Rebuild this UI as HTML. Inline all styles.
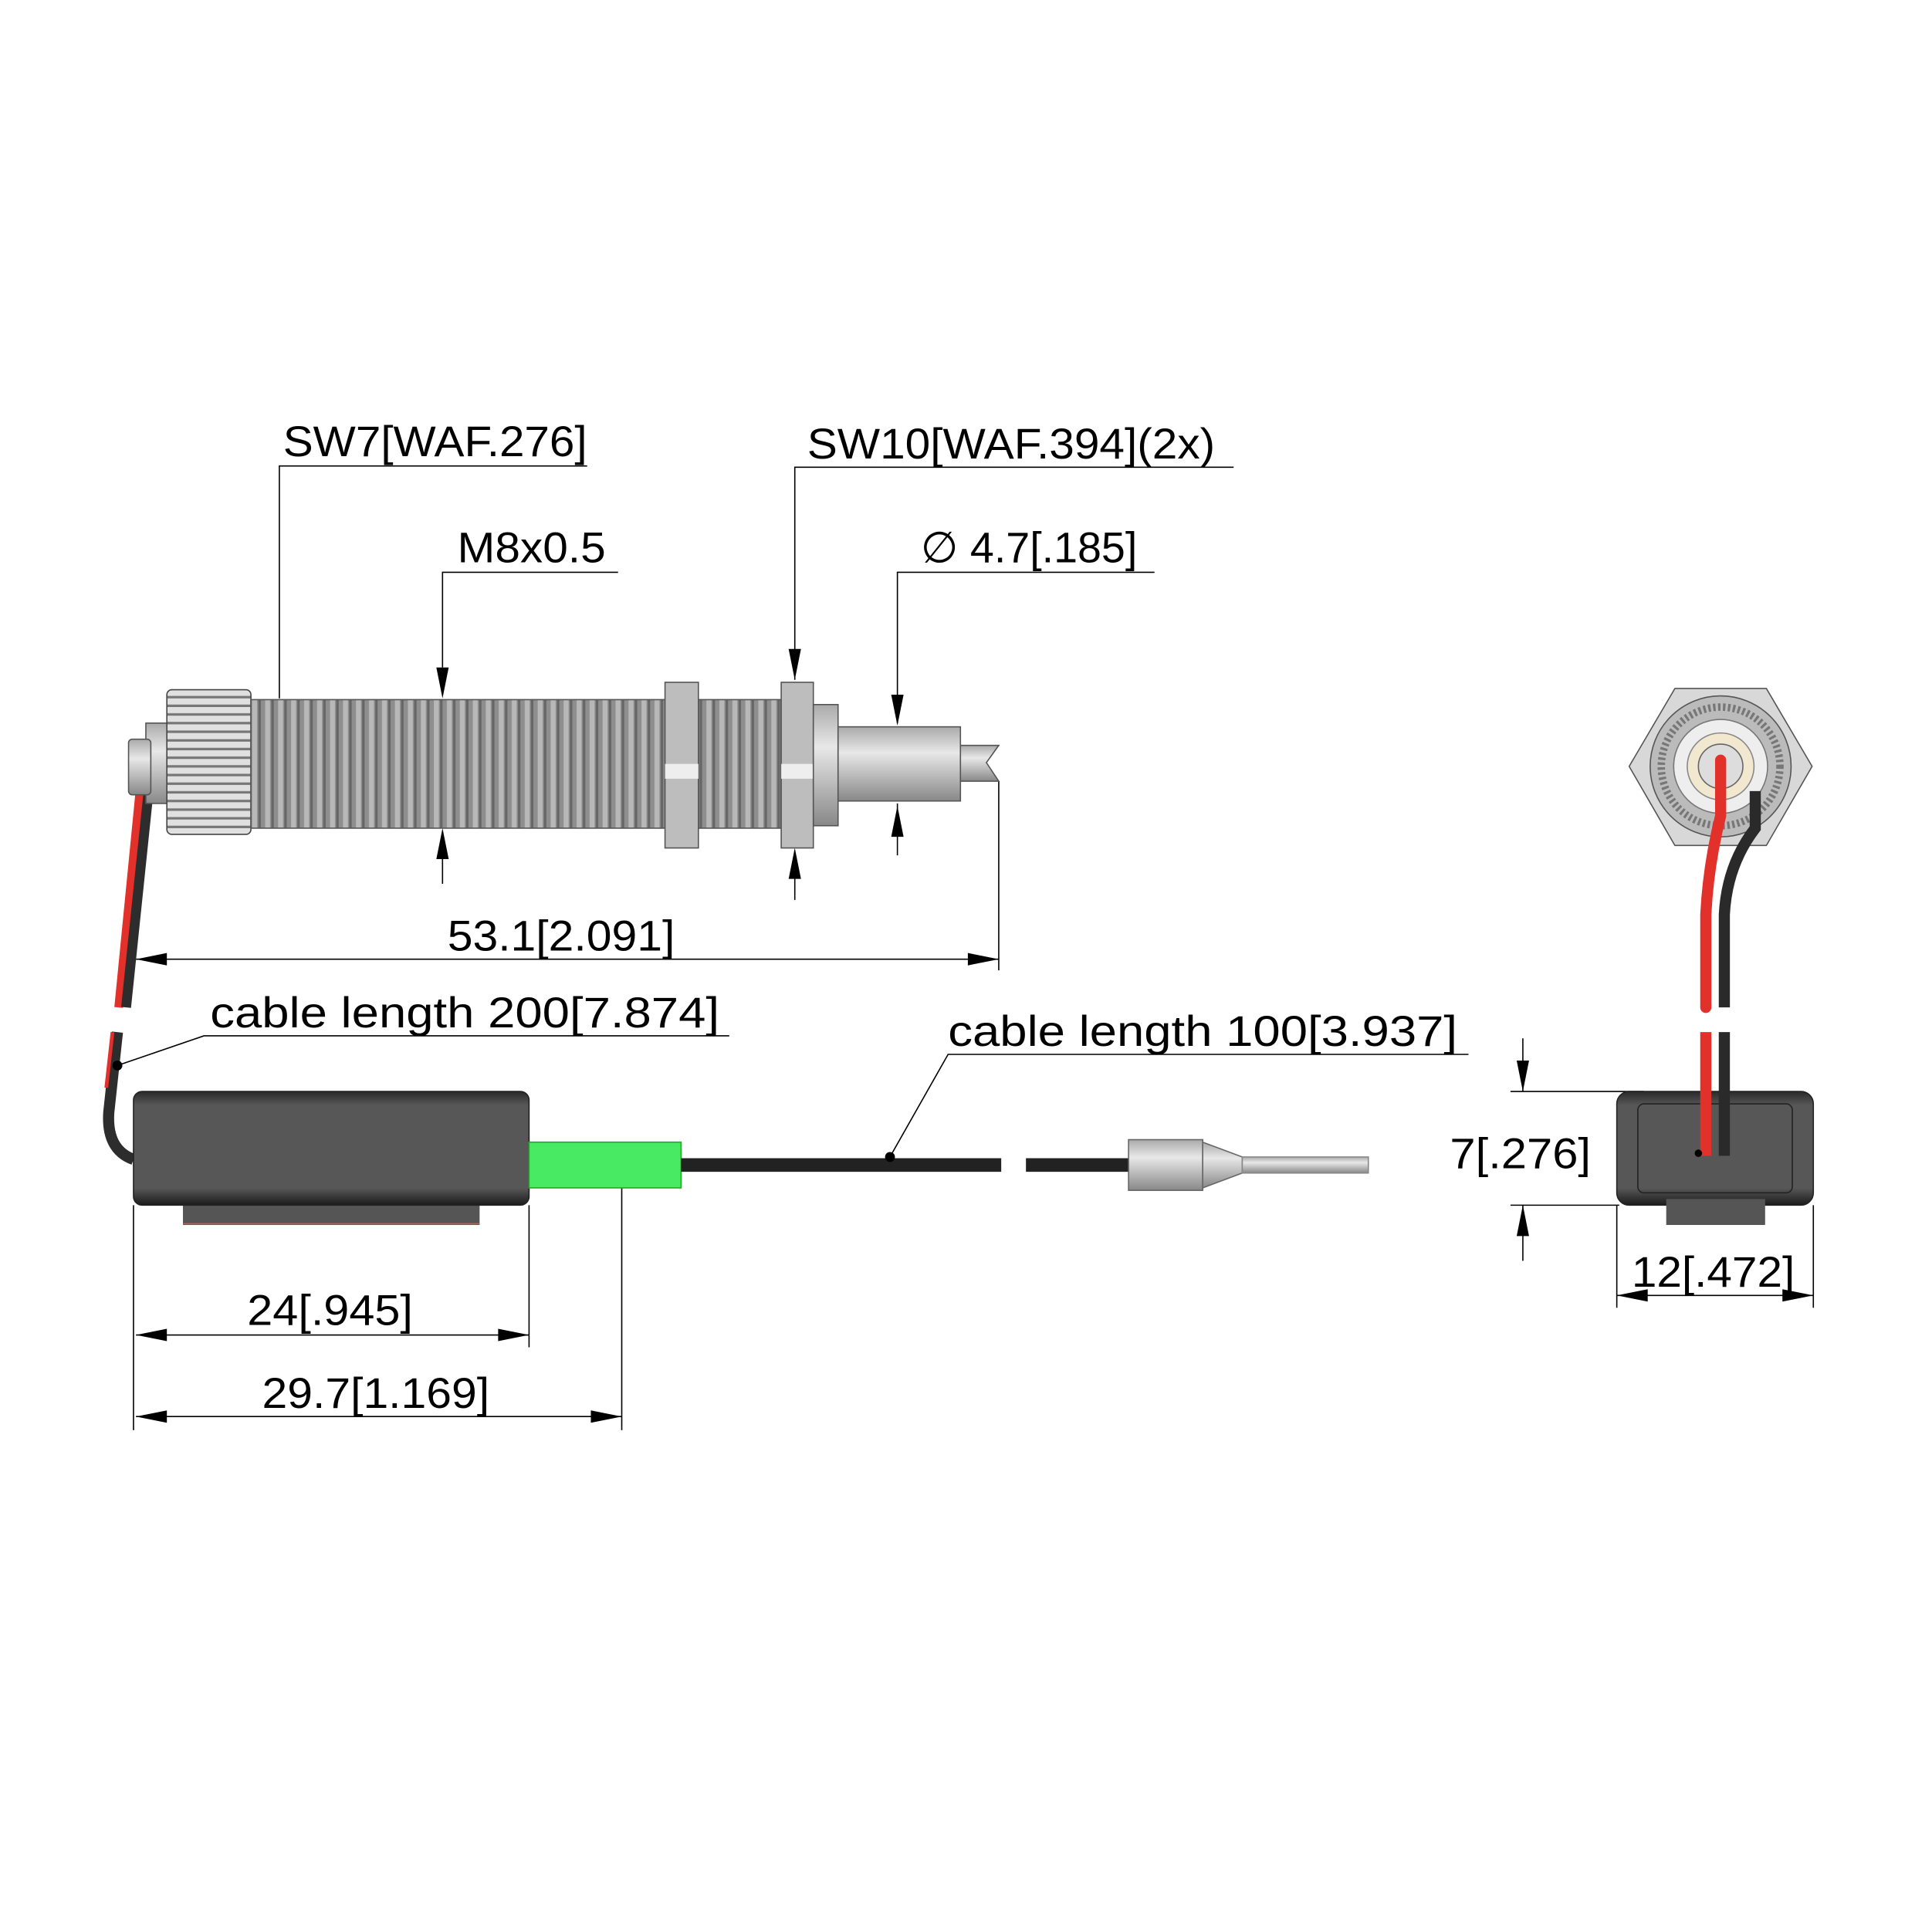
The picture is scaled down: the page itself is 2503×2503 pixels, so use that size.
<!DOCTYPE html>
<html><head><meta charset="utf-8"><style>html,body{margin:0;padding:0;background:#fff}svg{display:block}</style></head><body>
<svg width="2503" height="2503" viewBox="0 0 1563 1563" xmlns="http://www.w3.org/2000/svg" font-family="Liberation Sans, DejaVu Sans, sans-serif">
<defs>
<pattern id="thr" x="203" y="0" width="10.5" height="20" patternUnits="userSpaceOnUse">
<rect width="10.5" height="20" fill="#8e8e8e"/><rect x="1" width="4" height="20" fill="#b8b8b8"/><rect x="6" width="2" height="20" fill="#666"/>
</pattern>
<pattern id="knurl" x="0" y="558" width="10" height="7" patternUnits="userSpaceOnUse">
<rect width="10" height="7" fill="#e0e0e0"/><rect y="5" width="10" height="2" fill="#777"/>
</pattern>
<linearGradient id="cyl" x1="0" y1="0" x2="0" y2="1"><stop offset="0" stop-color="#aaa"/><stop offset=".35" stop-color="#e8e8e8"/><stop offset="1" stop-color="#888"/></linearGradient>
<linearGradient id="box" x1="0" y1="0" x2="0" y2="1"><stop offset="0" stop-color="#2a2a2a"/><stop offset=".12" stop-color="#575757"/><stop offset=".85" stop-color="#575757"/><stop offset="1" stop-color="#1a1a1a"/></linearGradient>
</defs>
<g fill="#000" font-size="35">
<text x="229" y="369" textLength="246" lengthAdjust="spacingAndGlyphs">SW7[WAF.276]</text>
<text x="653" y="371" textLength="330" lengthAdjust="spacingAndGlyphs">SW10[WAF.394](2x)</text>
<text x="370" y="455" textLength="120" lengthAdjust="spacingAndGlyphs">M8x0.5</text>
<text x="745" y="455" textLength="175" lengthAdjust="spacingAndGlyphs">∅ 4.7[.185]</text>
<text x="362" y="769" textLength="184" lengthAdjust="spacingAndGlyphs">53.1[2.091]</text>
<text x="170" y="831" textLength="412" lengthAdjust="spacingAndGlyphs">cable length 200[7.874]</text>
<text x="767" y="846" textLength="412" lengthAdjust="spacingAndGlyphs">cable length 100[3.937]</text>
<text x="200" y="1072" textLength="134" lengthAdjust="spacingAndGlyphs">24[.945]</text>
<text x="212" y="1139" textLength="184" lengthAdjust="spacingAndGlyphs">29.7[1.169]</text>
<text x="1173" y="945" textLength="114" lengthAdjust="spacingAndGlyphs">7[.276]</text>
<text x="1320" y="1041" textLength="132" lengthAdjust="spacingAndGlyphs">12[.472]</text>
</g>
<g stroke="#000" stroke-width="1" fill="none">
<polyline points="226,565 226,377 475,377"/>
<polyline points="643,550 643,378 998,378"/>
<polyline points="358,540 358,463 500,463"/>
<polyline points="726,585 726,463 934,463"/>
<line x1="358" y1="675" x2="358" y2="715"/><line x1="643" y1="688" x2="643" y2="728"/><line x1="726" y1="650" x2="726" y2="692"/>
<line x1="808" y1="632" x2="808" y2="785"/>
<line x1="110" y1="776" x2="808" y2="776"/>
<polyline points="95,862 165,838 590,838"/>
<polyline points="720,936 767,853 1188,853"/>
<line x1="108" y1="975" x2="108" y2="1157"/><line x1="428" y1="975" x2="428" y2="1090"/><line x1="503" y1="940" x2="503" y2="1157"/>
<line x1="110" y1="1080" x2="428" y2="1080"/><line x1="110" y1="1146" x2="503" y2="1146"/>
<line x1="1232" y1="840" x2="1232" y2="883"/><line x1="1222" y1="883" x2="1330" y2="883"/>
<line x1="1232" y1="975" x2="1232" y2="1020"/><line x1="1222" y1="975" x2="1310" y2="975"/>
<line x1="1308" y1="975" x2="1308" y2="1058"/><line x1="1467" y1="975" x2="1467" y2="1058"/>
<line x1="1308" y1="1048" x2="1467" y2="1048"/>
</g>
<g fill="#000">
<polygon points="358,565 353,540 363,540"/><polygon points="358,670 353,695 363,695"/>
<polygon points="643,550 638,525 648,525"/><polygon points="643,686 638,711 648,711"/>
<polygon points="726,587 721,562 731,562"/><polygon points="726,652 721,677 731,677"/>
<polygon points="110,776 135,771 135,781"/><polygon points="808,776 783,771 783,781"/>
<polygon points="110,1080 135,1075 135,1085"/><polygon points="428,1080 403,1075 403,1085"/>
<polygon points="110,1146 135,1141 135,1151"/><polygon points="503,1146 478,1141 478,1151"/>
<polygon points="1232,883 1227,858 1237,858"/><polygon points="1232,975 1227,1000 1237,1000"/>
<polygon points="1308,1048 1333,1043 1333,1053"/><polygon points="1467,1048 1442,1043 1442,1053"/>
</g>
<!-- wires left -->
<path d="M113,642 L96,815" stroke="#e2302a" stroke-width="7"/><path d="M120,642 L102,815" stroke="#2d2d2d" stroke-width="8"/>
<path d="M95,835 L88,900 Q86,930 108,938" stroke="#2d2d2d" stroke-width="9" fill="none"/>
<path d="M91,835 L86,880" stroke="#e2302a" stroke-width="3"/>
<circle cx="95" cy="862" r="4"/><circle cx="226" cy="616" r="4"/>
<!-- sensor -->
<rect x="118" y="585" width="20" height="65" fill="url(#cyl)" stroke="#555"/>
<rect x="104" y="598" width="18" height="45" rx="3" fill="url(#cyl)" stroke="#555"/>
<rect x="135" y="558" width="68" height="117" rx="4" fill="url(#knurl)" stroke="#444"/>
<rect x="203" y="566" width="337" height="104" fill="url(#thr)" stroke="#555"/>
<rect x="565" y="566" width="67" height="104" fill="url(#thr)" stroke="#555"/>
<rect x="538" y="552" width="27" height="134" fill="#bdbdbd" stroke="#555"/><rect x="538" y="618" width="27" height="12" fill="#eee"/>
<rect x="632" y="552" width="26" height="134" fill="#bdbdbd" stroke="#555"/><rect x="632" y="618" width="26" height="12" fill="#eee"/>
<rect x="658" y="570" width="20" height="98" fill="url(#cyl)" stroke="#555"/>
<rect x="678" y="588" width="99" height="60" fill="url(#cyl)" stroke="#555"/>
<path d="M777,603 L808,603 L798,617 L808,632 L777,632 Z" fill="url(#cyl)" stroke="#555"/>
<!-- box left -->
<rect x="148" y="970" width="240" height="21" fill="#555"/><line x1="148" y1="990" x2="388" y2="990" stroke="#c55"/>
<rect x="108" y="883" width="320" height="92" rx="7" fill="url(#box)" stroke="#222"/>
<rect x="428" y="924" width="123" height="37" fill="#48ea64" stroke="#2a2"/>
<rect x="551" y="937" width="259" height="11" fill="#222"/>
<rect x="830" y="937" width="83" height="11" fill="#222"/>
<circle cx="720" cy="936" r="4"/>
<rect x="913" y="922" width="60" height="41" fill="url(#cyl)" stroke="#666"/>
<polygon points="973,924 1005,936 1005,949 973,961" fill="url(#cyl)" stroke="#666"/>
<rect x="1005" y="936" width="102" height="13" fill="url(#cyl)" stroke="#888"/>
<!-- right view -->
<polygon points="1355,557 1429,557 1466,620 1429,684 1355,684 1318,620" fill="#d8d8d8" stroke="#555"/>
<circle cx="1392" cy="620" r="57" fill="#bbb" stroke="#555"/>
<circle cx="1392" cy="620" r="48" fill="none" stroke="#777" stroke-width="6" stroke-dasharray="2 2"/>
<circle cx="1392" cy="620" r="38" fill="#eee" stroke="#777"/>
<circle cx="1392" cy="620" r="27" fill="#f2e8d0" stroke="#888"/>
<circle cx="1392" cy="620" r="18" fill="#ddd" stroke="#666"/>
<rect x="1308" y="883" width="159" height="92" rx="10" fill="url(#box)" stroke="#222"/>
<rect x="1348" y="970" width="80" height="21" fill="#555"/>
<rect x="1325" y="893" width="125" height="72" rx="5" fill="none" stroke="#222"/>
<path d="M1392,615 L1392,660 Q1382,700 1380,740 L1380,815" stroke="#e2302a" stroke-width="9" fill="none" stroke-linecap="round"/>
<path d="M1420,640 L1420,670 Q1397,700 1395,740 L1395,815" stroke="#2a2a2a" stroke-width="9" fill="none"/>
<path d="M1380,835 L1380,935" stroke="#e2302a" stroke-width="9"/>
<path d="M1395,835 L1395,935" stroke="#2a2a2a" stroke-width="9"/>
<circle cx="1374" cy="933" r="3"/>
</svg>
</body></html>
